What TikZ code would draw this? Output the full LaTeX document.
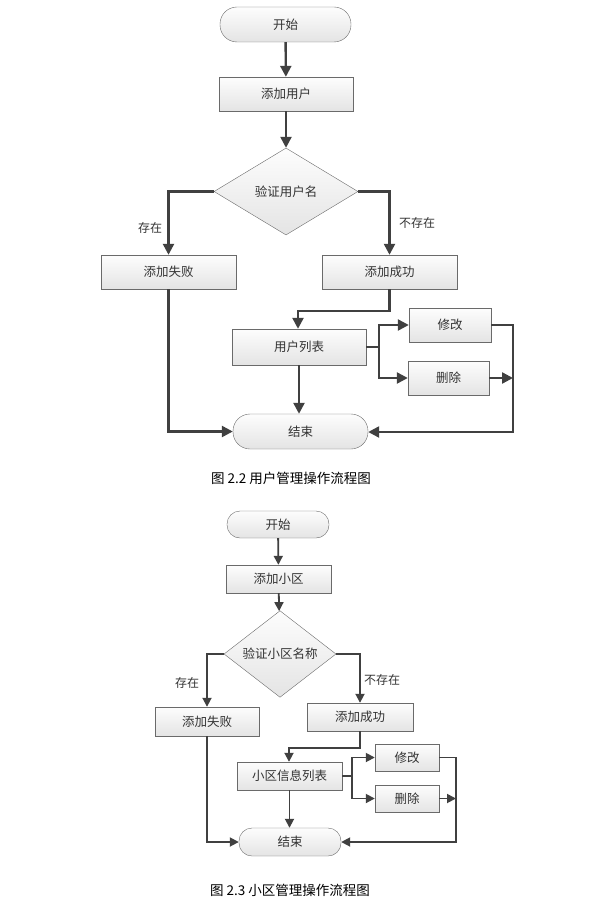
\documentclass[tikz,border=0pt]{standalone}
\usepackage{fontspec}
\setmainfont{Noto Sans CJK SC}
\usetikzlibrary{shapes.geometric, arrows.meta, positioning, calc}
\usepackage{xcolor}
\definecolor{Edge}{HTML}{6A6A6A}
\definecolor{Flow}{HTML}{404040}
\definecolor{FillTop}{HTML}{FDFDFD}
\definecolor{FillBot}{HTML}{E4E4E4}
\definecolor{Ink}{HTML}{333333}

\begin{document}
\begin{tikzpicture}[x=1pt, y=-1pt,
        term/.style={rectangle, draw=Edge, top color=FillTop, bottom color=FillBot, rounded corners=13pt, inner sep=0pt, align=center, text=Ink, font=\fontsize{12.5}{14}\selectfont},
        proc/.style={rectangle, draw=Edge, top color=FillTop, bottom color=FillBot, inner sep=0pt, align=center, text=Ink, font=\fontsize{12.5}{14}\selectfont},
        decide/.style={diamond, draw=Edge, top color=FillTop, bottom color=FillBot, inner sep=0pt, align=center, text=Ink, font=\fontsize{12.5}{14}\selectfont},
        arrow/.style={-{Triangle[length=11pt, width=11pt]}, line width=2.4pt, color=Flow},
        flow/.style={line width=2.4pt, color=Flow},
        arrowb/.style={-{Triangle[length=9pt, width=9pt]}, line width=1.8pt, color=Flow},
        flowb/.style={line width=1.8pt, color=Flow},
        lbl/.style={font=\fontsize{12}{13}\selectfont, color=Ink},
        caption/.style={font=\fontsize{13.5}{16}\selectfont}
    ]
    \useasboundingbox (0,0) rectangle (600,915);

    % Figure 2.2: user management
    \node[term, minimum width=131pt, minimum height=35pt, rounded corners=17pt] (start1) at (285.5,24.5) {开始};
    \node[proc, minimum width=134pt, minimum height=34pt] (add1) at (286,94) {添加用户};
    \node[decide, minimum width=144pt, minimum height=87pt] (chk1) at (286,191.5) {验证用户名};
    \node[proc, minimum width=135pt, minimum height=34pt] (fail1) at (168.5,272) {添加失败};
    \node[proc, minimum width=135pt, minimum height=34pt] (ok1) at (389.5,272) {添加成功};
    \node[proc, minimum width=134pt, minimum height=36pt] (list1) at (299,347) {用户列表};
    \node[proc, minimum width=82pt, minimum height=34pt] (mod1) at (450,325) {修改};
    \node[proc, minimum width=81pt, minimum height=34pt] (del1) at (448.5,378) {删除};
    \node[term, minimum width=135pt, minimum height=35pt, rounded corners=17pt] (end1) at (300.5,431.5) {结束};
    \node[lbl] (yes1) at (150,228) {存在};
    \node[lbl] (no1) at (417,223) {不存在};
    \node[caption] (cap1) at (291,478) {图 2.2 用户管理操作流程图};

    \coordinate (bend1) at (298,311);
    \coordinate (fork1) at (379,347);
    \coordinate (back1) at (513,432);

    % Connections
    \draw[arrow] (start1) -- (add1);
    \draw[arrow] (add1) -- (chk1);
    \draw[arrow] (chk1.west) -| (fail1.north);
    \draw[arrow] (chk1.east) -| (ok1.north);
    \draw[arrow] (ok1.south) |- (bend1) -- (bend1 |- list1.north);
    \draw[flow] (list1.east) -- (fork1);
    \draw[arrow] (fork1) |- (mod1.west);
    \draw[arrow] (fork1) |- (del1.west);
    \draw[arrow] (mod1.east) -| (back1) -- (back1 -| end1.east);
    \draw[arrow] (del1.east) -- (del1.east -| back1);
    \draw[arrow] (list1.south) -- (list1.south |- end1.north);
    \draw[arrow] (fail1.south) |- (end1.west);

    % Figure 2.3: community management
    \node[term, minimum width=102pt, minimum height=27pt] (start2) at (278,524.5) {开始};
    \node[proc, minimum width=105pt, minimum height=28pt] (add2) at (278.5,579) {添加小区};
    \node[decide, minimum width=112pt, minimum height=66pt] (chk2) at (280,654) {验证小区名称};
    \node[proc, minimum width=104pt, minimum height=29pt] (fail2) at (207,721.5) {添加失败};
    \node[proc, minimum width=106pt, minimum height=28pt] (ok2) at (360,717) {添加成功};
    \node[proc, minimum width=105pt, minimum height=28pt] (list2) at (289.5,776) {小区信息列表};
    \node[proc, minimum width=64pt, minimum height=27pt] (mod2) at (407,757.5) {修改};
    \node[proc, minimum width=64pt, minimum height=27pt] (del2) at (407,798.5) {删除};
    \node[term, minimum width=102pt, minimum height=28pt] (end2) at (290,842) {结束};
    \node[lbl] (yes2) at (187,683) {存在};
    \node[lbl] (no2) at (382,680) {不存在};
    \node[caption] (cap2) at (290,890) {图 2.3 小区管理操作流程图};

    \coordinate (bend2) at (289,748);
    \coordinate (fork2) at (352,776);
    \coordinate (back2) at (456,842);

    % Connections
    \draw[arrowb] (start2) -- (add2);
    \draw[arrowb] (add2) -- (chk2);
    \draw[arrowb] (chk2.west) -| (fail2.north);
    \draw[arrowb] (chk2.east) -| (ok2.north);
    \draw[arrowb] (ok2.south) |- (bend2) -- (bend2 |- list2.north);
    \draw[flowb] (list2.east) -- (fork2);
    \draw[arrowb] (fork2) |- (mod2.west);
    \draw[arrowb] (fork2) |- (del2.west);
    \draw[arrowb] (mod2.east) -| (back2) -- (end2.east);
    \draw[arrowb] (del2.east) -- (del2.east -| back2);
    \draw[arrowb] (list2.south) -- (list2.south |- end2.north);
    \draw[arrowb] (fail2.south) |- (end2.west);
\end{tikzpicture}
\end{document}
